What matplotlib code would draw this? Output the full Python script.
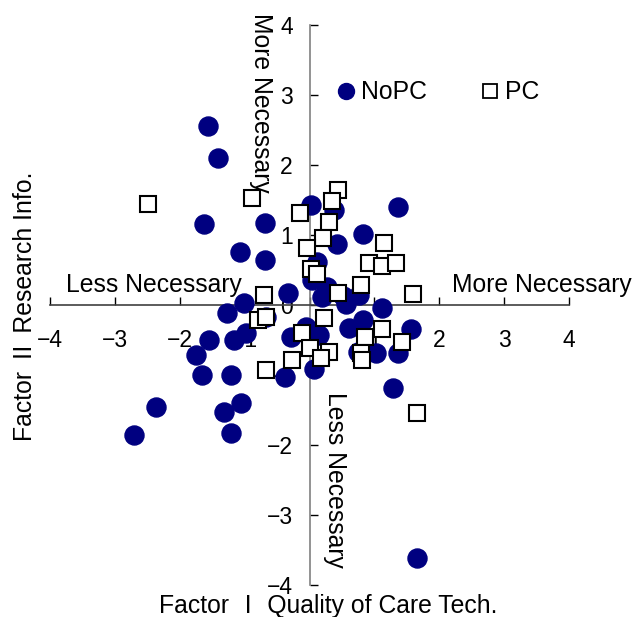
import matplotlib
matplotlib.use("Agg")
import matplotlib.pyplot as plt
from matplotlib.lines import Line2D

plt.rcParams['font.family'] = ['Liberation Sans', 'Noto Sans CJK JP', 'DejaVu Sans']

# Factor scores: (Factor I, Factor II)
nopc_x = [-1.57, -1.41, -1.63, -0.68, -1.07, -0.68, 0.03, 0.37, 1.36, 0.43,
          0.83, 0.12, 0.04, 0.27, -0.33, 0.51, 0.77, 1.11, 0.20, 0.57,
          -1.01, -1.27, -0.98, -1.16, -1.55, -0.28, -1.75, -1.66, -1.21, -0.38,
          -2.36, -1.32, -1.06, -2.71, -1.21, -0.67, -0.05, 0.15, 0.61, 0.83,
          1.57, 0.74, 1.02, 1.36, 0.07, 1.28, 1.66]
nopc_y = [2.56, 2.10, 1.16, 1.17, 0.76, 0.64, 1.43, 1.36, 1.40, 0.87,
          1.01, 0.61, 0.36, 0.26, 0.17, 0.13, 0.14, -0.04, 0.11, 0.01,
          0.03, -0.11, -0.40, -0.50, -0.50, -0.46, -0.71, -1.00, -1.00, -1.03,
          -1.46, -1.53, -1.40, -1.86, -1.83, -0.17, -0.31, -0.43, -0.33, -0.21,
          -0.34, -0.67, -0.69, -0.69, -0.91, -1.19, -3.61]

pc_x = [-2.49, -0.89, 0.44, 0.35, -0.14, 0.30, 0.21, -0.04, 0.03, 0.12,
        0.44, 0.80, 1.15, 0.91, 1.12, 1.34, 1.59, 0.23, -0.11, 0.00,
        0.30, 0.18, -0.27, 1.12, 0.85, 1.43, 0.80, 0.81, -0.70, -0.79,
        -0.67, -0.67, 1.66]
pc_y = [1.44, 1.53, 1.64, 1.49, 1.31, 1.19, 0.96, 0.81, 0.51, 0.44,
        0.17, 0.29, 0.89, 0.60, 0.56, 0.60, 0.16, -0.19, -0.40, -0.61,
        -0.67, -0.76, -0.79, -0.34, -0.46, -0.53, -0.69, -0.79, 0.14, -0.21,
        -0.17, -0.93, -1.54]

ticks = [-4, -3, -2, -1, 0, 1, 2, 3, 4]
series_names = ["NoPC", "PC"]
xlabel = "Factor \u2160 Quality of Care Tech."
ylabel = "Factor \u2161 Research Info."

FS = 17.8
TFS = 16.5
NAVY = "#000080"

fig = plt.figure(figsize=(6.33, 6.17), dpi=100)
ax = fig.add_axes([50 / 633, 1 - 585 / 617, 519 / 633, 560 / 617])
ax.set_xlim(-4, 4)
ax.set_ylim(-4, 4)

ax.spines['top'].set_visible(False)
ax.spines['right'].set_visible(False)
ax.spines['left'].set_position(('data', 0))
ax.spines['bottom'].set_position(('data', 0))
ax.spines['left'].set_color('#808080')
ax.spines['bottom'].set_color('#404040')
ax.spines['left'].set_linewidth(1.2)
ax.spines['bottom'].set_linewidth(1.2)

ax.set_xticks(ticks)
ax.set_yticks(ticks)
ax.set_xticklabels([f"{t}".replace("-", "\u2212") for t in ticks])
ax.set_yticklabels([f"{t}".replace("-", "\u2212") for t in ticks])
ax.tick_params(axis='x', direction='in', length=6, width=1, pad=17,
               labelsize=TFS, colors='black')
ax.tick_params(axis='y', direction='in', length=6, width=1, pad=12,
               labelsize=TFS, colors='black')

ax.plot(nopc_x, nopc_y, linestyle='none', marker='o', markersize=13.7,
        markerfacecolor=NAVY, markeredgecolor=NAVY, zorder=3)
ax.plot(pc_x, pc_y, linestyle='none', marker='s', markersize=11.5,
        markerfacecolor='white', markeredgecolor='black',
        markeredgewidth=1.5, zorder=4)

# Direction annotations
ax.text(-2.40, 0.19, "Less Necessary", fontsize=FS, ha='center', va='baseline')
ax.text(3.58, 0.19, "More Necessary", fontsize=FS, ha='center', va='baseline',
        clip_on=False)
ax.text(-0.75, 2.89, "More Necessary", fontsize=FS, ha='center', va='center',
        rotation=-90, rotation_mode='anchor')
ax.text(0.40, -2.50, "Less Necessary", fontsize=FS, ha='center', va='center',
        rotation=-90, rotation_mode='anchor')

handles = [
    Line2D([], [], linestyle='none', marker='o', markersize=11.5,
           markerfacecolor=NAVY, markeredgecolor=NAVY),
    Line2D([], [], linestyle='none', marker='s', markersize=9.5,
           markerfacecolor='white', markeredgecolor='black',
           markeredgewidth=1.3),
]
ax.legend(handles, series_names, loc='center left',
          bbox_to_anchor=(0.550, 0.880), ncol=2, frameon=False,
          fontsize=FS, handlelength=0.85, handletextpad=0.2,
          columnspacing=2.1, borderpad=0, borderaxespad=0)

fig.text(328 / 633, 1 - 606.5 / 617, xlabel, fontsize=FS, ha='center', va='center')
fig.text(25 / 633, 1 - 306 / 617, ylabel, fontsize=FS, ha='center', va='center',
         rotation=90)

fig.savefig("out.png", dpi=100)
